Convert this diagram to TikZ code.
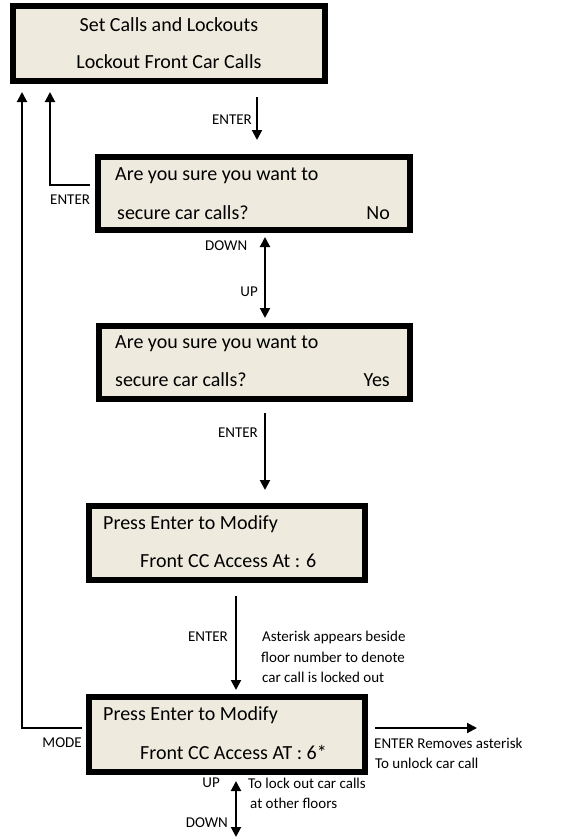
\documentclass[tikz,border=0pt]{standalone}
\usepackage{fontspec}
\setmainfont{Carlito}
\usetikzlibrary{arrows.meta}
\definecolor{boxfill}{HTML}{EEEBDE}
\begin{document}
\begin{tikzpicture}[x=1pt,y=-1pt,
  box/.style={draw=black, line width=6pt, fill=boxfill, inner sep=0pt},
  btxt/.style={inner sep=0pt, font=\fontsize{20}{24}\selectfont},
  lbl/.style={inner sep=0pt, font=\fontsize{15}{18}\selectfont},
  arr/.style={-{Triangle[length=10pt,width=10pt]}, line width=2pt},
  dbl/.style={{Triangle[length=10pt,width=10pt]}-{Triangle[length=10pt,width=10pt]}, line width=2pt}]
\useasboundingbox (0,0) rectangle (587,839);
\fill[white] (0,0) rectangle (587,839);
% boxes
\node[box, minimum width=312pt, minimum height=75pt] (b1) at (169,43.5) {};
\node[box, minimum width=312pt, minimum height=73pt] (b2) at (254,193.5) {};
\node[box, minimum width=311pt, minimum height=73pt] (b3) at (254.5,362.5) {};
\node[box, minimum width=276pt, minimum height=74pt] (b4) at (227,543) {};
\node[box, minimum width=276pt, minimum height=75pt] (b5) at (227,734.5) {};
% box texts
\node[btxt] (t1a) at (169,25) {Set Calls and Lockouts};
\node[btxt] (t1b) at (169,62) {Lockout Front Car Calls};
\node[btxt, anchor=west] (t2a) at (115,176) {Are you sure you want to};
\node[btxt, anchor=west] (t2b) at (117,213) {secure car calls?};
\node[btxt, anchor=east] (t2c) at (390,213) {No};
\node[btxt, anchor=west] (t3a) at (115,344) {Are you sure you want to};
\node[btxt, anchor=west] (t3b) at (115,380) {secure car calls?};
\node[btxt, anchor=east] (t3c) at (390,380) {Yes};
\node[btxt, anchor=west] (t4a) at (103,524) {Press Enter to Modify};
\node[btxt, anchor=west] (t4b) at (140,561) {Front CC Access At : 6};
\node[btxt, anchor=west] (t5a) at (103,715) {Press Enter to Modify};
\node[btxt, anchor=west] (t5b) at (140,752) {Front CC Access AT : 6*};
% coordinates
\coordinate (xa) at (257,0);
\coordinate (xb) at (265,0);
\coordinate (xc) at (236,0);
\coordinate (l1) at (50,0);
\coordinate (l2) at (22,0);
\coordinate (r1) at (477,728);
\coordinate (d1) at (236,837);
% connectors
\draw[arr, shorten <=13pt, shorten >=14pt] (b1.south -| xa) -- (b2.north -| xa);
\draw[arr, shorten >=8pt] ([xshift=-5pt,yshift=8.5pt]b2.west) -| (b1.south -| l1);
\draw[arr, shorten >=8pt] ([xshift=-4pt,yshift=6.5pt]b5.west) -| (b1.south -| l2);
\draw[dbl, shorten <=4pt, shorten >=5pt] (b2.south -| xb) -- (b3.north -| xb);
\draw[arr, shorten <=11pt, shorten >=13pt] (b3.south -| xb) -- (b4.north -| xb);
\draw[arr, shorten <=13pt, shorten >=4pt] (b4.south -| xc) -- (b5.north -| xc);
\draw[arr, shorten <=7pt] ([yshift=6.5pt]b5.east) -- (r1);
\draw[dbl, shorten <=6pt] (b5.south -| xc) -- (d1);
% labels
\node[lbl, anchor=east] (e1) at (252,120) {ENTER};
\node[lbl, anchor=west] (e2) at (50,200) {ENTER};
\node[lbl, anchor=west] (dn1) at (205,246) {DOWN};
\node[lbl, anchor=east] (up1) at (258,292) {UP};
\node[lbl, anchor=east] (e3) at (258,433) {ENTER};
\node[lbl, anchor=east] (e4) at (228,637) {ENTER};
\node[lbl, anchor=west] (n1) at (262,637) {Asterisk appears beside};
\node[lbl, anchor=west] (n2) at (261,657) {floor number to denote};
\node[lbl, anchor=west] (n3) at (262,677) {car call is locked out};
\node[lbl, anchor=east] (md) at (82,743) {MODE};
\node[lbl, anchor=west] (rm1) at (374,743) {ENTER Removes asterisk};
\node[lbl, anchor=west] (rm2) at (375,763) {To unlock car call};
\node[lbl, anchor=east] (up2) at (220,783) {UP};
\node[lbl, anchor=east] (dn2) at (228,823) {DOWN};
\node[lbl, anchor=west] (o1) at (248,783) {To lock out car calls};
\node[lbl, anchor=west] (o2) at (250,803) {at other floors};
\end{tikzpicture}
\end{document}
